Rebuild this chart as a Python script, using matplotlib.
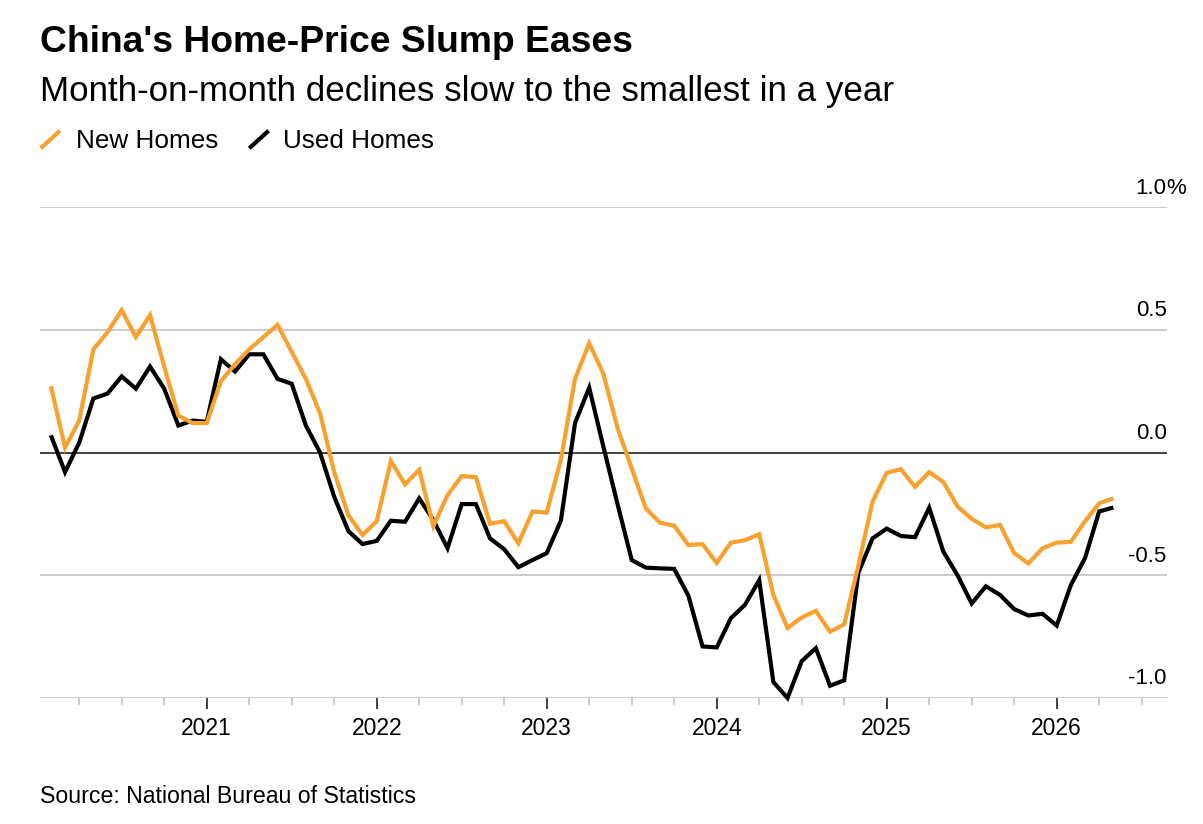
import matplotlib
matplotlib.use("Agg")
import matplotlib.pyplot as plt
import matplotlib.transforms as mtransforms
from matplotlib.lines import Line2D
import numpy as np

# ---------------- data ----------------
start_year = 2020
start_month = 2  # first observation: Feb 2020, monthly through May 2026

new_homes = [
    0.27, 0.02, 0.13, 0.42, 0.49, 0.58, 0.47, 0.56, 0.35, 0.15, 0.12,            # 2020 Feb-Dec
    0.12, 0.29, 0.36, 0.42, 0.47, 0.52, 0.41, 0.30, 0.16, -0.08, -0.255, -0.336,  # 2021
    -0.28, -0.035, -0.13, -0.07, -0.30, -0.174, -0.096, -0.10, -0.29, -0.28, -0.37, -0.24,  # 2022
    -0.245, -0.03, 0.30, 0.445, 0.32, 0.10, -0.065, -0.228, -0.286, -0.298, -0.377, -0.373,  # 2023
    -0.45, -0.367, -0.357, -0.333, -0.58, -0.715, -0.672, -0.645, -0.73, -0.70, -0.46, -0.20,  # 2024
    -0.083, -0.068, -0.14, -0.08, -0.12, -0.22, -0.27, -0.305, -0.295, -0.41, -0.452, -0.39,  # 2025
    -0.367, -0.364, -0.28, -0.207, -0.187,                                          # 2026 Jan-May
]
used_homes = [
    0.07, -0.08, 0.04, 0.22, 0.24, 0.31, 0.26, 0.35, 0.26, 0.11, 0.13,
    0.125, 0.38, 0.33, 0.40, 0.40, 0.30, 0.28, 0.11, 0.00, -0.18, -0.32, -0.373,
    -0.36, -0.278, -0.282, -0.187, -0.275, -0.39, -0.21, -0.21, -0.35, -0.394, -0.467, -0.438,
    -0.41, -0.278, 0.12, 0.264, 0.024, -0.21, -0.438, -0.469, -0.472, -0.474, -0.583, -0.79,
    -0.794, -0.675, -0.62, -0.52, -0.935, -1.0, -0.85, -0.797, -0.95, -0.928, -0.49, -0.35,
    -0.31, -0.34, -0.345, -0.225, -0.404, -0.50, -0.615, -0.545, -0.58, -0.638, -0.664, -0.657,
    -0.705, -0.54, -0.43, -0.24, -0.224,
]
series_names = ["New Homes", "Used Homes"]
year_ticks = [2021, 2022, 2023, 2024, 2025, 2026]
y_ticks = [-1.0, -0.5, 0.0, 0.5, 1.0]
y_tick_labels = ["-1.0", "-0.5", "0.0", "0.5", "1.0"]

title = "China's Home-Price Slump Eases"
subtitle = "Month-on-month declines slow to the smallest in a year"
source = "Source: National Bureau of Statistics"

# ---------------- style ----------------
W, H, DPI = 1203, 824, 100
ORANGE = "#F9A12E"
BLACK = "#000000"
GRID = "#cccccc"
TXT = "#000000"
plt.rcParams["font.family"] = ["Liberation Sans", "DejaVu Sans"]

fig = plt.figure(figsize=(W / DPI, H / DPI), dpi=DPI)
fig.patch.set_facecolor("white")


def fx(px):
    return px / W


def fy(py):
    return 1 - py / H


ax_left, ax_right, ax_top, ax_bottom = 40, 1166.7, 207, 698
ax = fig.add_axes([fx(ax_left), fy(ax_bottom), (ax_right - ax_left) / W, (ax_bottom - ax_top) / H])
ax.set_facecolor("white")

months = np.arange(len(new_homes))
x = start_year + (start_month - 1 + months) / 12.0

px_per_year = 170.0
ax.set_xlim(2021 - (206.7 - ax_left) / px_per_year, 2021 + (ax_right - 206.7) / px_per_year)
ax.set_ylim(-1.0, 1.0)

# gridlines
for v in y_ticks:
    if v == 0.0:
        ax.axhline(v, color="#222222", lw=1.2, zorder=1)
    else:
        ax.axhline(v, color=GRID, lw=1.4, zorder=1)

ax.plot(x, used_homes, color=BLACK, lw=3.0, zorder=3, clip_on=False,
        solid_joinstyle="miter", solid_capstyle="butt")
ax.plot(x, new_homes, color=ORANGE, lw=3.0, zorder=4, clip_on=False,
        solid_joinstyle="miter", solid_capstyle="butt")

for s in ax.spines.values():
    s.set_visible(False)
ax.set_yticks([])

# x ticks
ax.set_xticks(year_ticks)
ax.set_xticklabels([str(y) for y in year_ticks])
quarters = [yr + q / 4 for yr in range(2020, 2027) for q in range(4)]
quarters = [q for q in quarters if ax.get_xlim()[0] < q < ax.get_xlim()[1] and abs(q - round(q)) > 1e-6]
ax.set_xticks(quarters, minor=True)
ax.tick_params(axis="x", which="major", length=8, width=1.2, color="#222222",
               labelsize=16.5, pad=6, labelcolor=TXT)
ax.tick_params(axis="x", which="minor", length=5, width=1.1, color="#bbbbbb")

# y labels on right, above gridlines
blend = mtransforms.blended_transform_factory(ax.transAxes, ax.transData)
lab_tr = mtransforms.offset_copy(blend, fig=fig, x=0, y=13.5, units="dots")
for v, lab in zip(y_ticks, y_tick_labels):
    ax.text(1.0, v, lab, transform=lab_tr, ha="right", va="baseline",
            fontsize=16, color=TXT)
    if v == max(y_ticks):
        ax.text(1.0, v, "%", transform=lab_tr, ha="left", va="baseline",
                fontsize=16, color=TXT)

# titles
fig.text(fx(40), fy(51.7), title, fontsize=26.8, fontweight="bold", color=TXT, va="baseline", ha="left")
fig.text(fx(40), fy(101.2), subtitle, fontsize=25.2, color=TXT, va="baseline", ha="left")

# legend
leg_items = [(40.7, 76, ORANGE), (249.3, 283.3, BLACK)]
for (lx, tx, col), name in zip(leg_items, series_names):
    fig.add_artist(Line2D([fx(lx), fx(lx + 19.3)], [fy(148.3), fy(130.7)],
                          transform=fig.transFigure, color=col, lw=3.0, solid_capstyle="butt"))
    fig.text(fx(tx), fy(147.7), name, fontsize=18.8, color=TXT, va="baseline", ha="left")

fig.text(fx(40), fy(802.7), source, fontsize=16.7, color=TXT, va="baseline", ha="left")

fig.savefig("out.png", dpi=DPI, facecolor="white")
